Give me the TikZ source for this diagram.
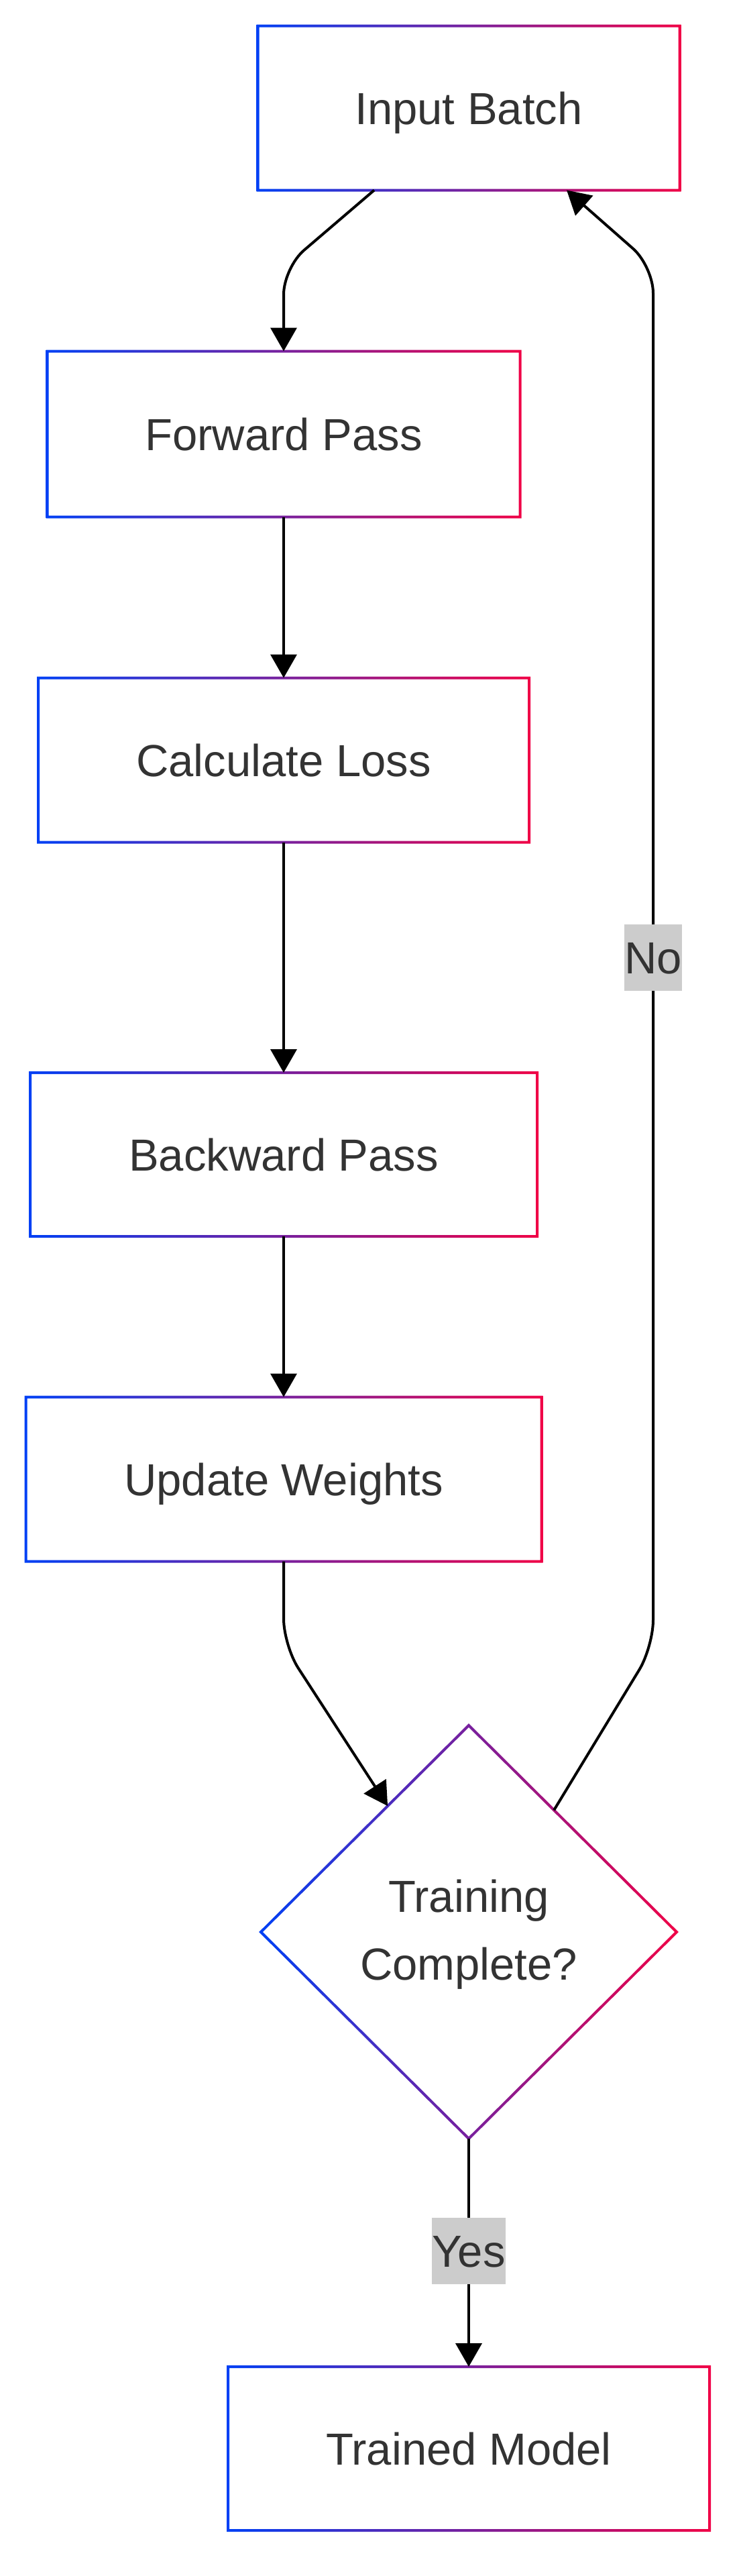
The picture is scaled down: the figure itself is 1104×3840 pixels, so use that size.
\documentclass[tikz,border=0pt]{standalone}
\usepackage{fontspec}
\setmainfont{Liberation Sans}
\usetikzlibrary{arrows.meta,shapes.geometric,calc}
\definecolor{gL}{RGB}{0,64,245}
\definecolor{gR}{RGB}{240,0,70}
\definecolor{txt}{RGB}{51,51,51}
\definecolor{lbl}{RGB}{204,204,204}
\pgfdeclarelayer{bg}
\pgfsetlayers{bg,main}
\newcommand\gborder[1]{%
  \shade[even odd rule, left color=gL, right color=gR]
    ([shift={(-2,-2)}]#1.north west) rectangle ([shift={(2,2)}]#1.south east)
    ([shift={(2,2)}]#1.north west) rectangle ([shift={(-2,-2)}]#1.south east);}
\newcommand\boxshadow[1]{%
  \begin{pgfonlayer}{bg}
  \foreach \s in {0,4,8,12,16}{%
    \fill[black,opacity=0.035]
      ([shift={(2-\s,4-\s)}]#1.north west) rectangle ([shift={(4+\s,12+\s)}]#1.south east);}
  \end{pgfonlayer}}
\begin{document}
\begin{tikzpicture}[x=0.5pt,y=-0.5pt,
  box/.style={rectangle, fill=white, draw=none, inner sep=0pt, outer sep=0pt, text=txt,
    text height=24pt, text depth=0pt, font=\fontsize{33.5}{40}\selectfont},
  dia/.style={diamond, fill=white, draw=none, inner sep=0pt, outer sep=0pt,
    minimum width=310pt, minimum height=308pt},
  dtext/.style={text=txt, align=center, inner sep=0pt, font=\fontsize{33.5}{50.5}\selectfont},
  conn/.style={draw=black, line width=2pt, rounded corners=20pt,
    -{Triangle[length=17.5pt,width=19.5pt]}},
  elabel/.style={fill=lbl, text=txt, inner xsep=0pt, inner ysep=0pt, minimum height=49.5pt,
    text height=24pt, text depth=0pt, font=\fontsize{33.5}{40}\selectfont}]
\useasboundingbox[fill=white] (0,0) rectangle (1104,3840);

\node[box, minimum width=314.5pt, minimum height=122.5pt] (in) at (699,161) {Input Batch};
\node[box, minimum width=352.5pt, minimum height=123.5pt] (fp) at (423,647) {Forward Pass};
\node[box, minimum width=366pt, minimum height=122.5pt] (cl) at (423,1133) {Calculate Loss};
\node[box, minimum width=378pt, minimum height=122pt] (bp) at (423,1721) {Backward Pass};
\node[box, minimum width=384.5pt, minimum height=122.5pt] (uw) at (423,2205) {Update Weights};
\node[dia] (tc) at (699,2880) {};
\node[box, minimum width=359pt, minimum height=122pt] (tm) at (699,3650) {Trained Model};

\foreach \n in {in,fp,cl,bp,uw,tm}{\boxshadow{\n}\gborder{\n}}

% diamond shadow and border
\begin{pgfonlayer}{bg}
\foreach \s in {0,5,10,15,20}{%
  \fill[black,opacity=0.035]
    ([shift={(3,-\s)}]tc.north) -- ([shift={(3+\s,6)}]tc.east) -- ([shift={(3,12+\s)}]tc.south) -- ([shift={(3-\s,6)}]tc.west) -- cycle;}
\end{pgfonlayer}
\shade[even odd rule, left color=gL, right color=gR]
  ([shift={(0,-2.83)}]tc.north) -- ([shift={(2.83,0)}]tc.east) -- ([shift={(0,2.83)}]tc.south) -- ([shift={(-2.83,0)}]tc.west) -- cycle
  ([shift={(0,2.83)}]tc.north) -- ([shift={(-2.83,0)}]tc.east) -- ([shift={(0,-2.83)}]tc.south) -- ([shift={(2.83,0)}]tc.west) -- cycle;
\node[dtext] (tct) at ($(tc.center)+(0,4)$) {Training\\Complete?};

% connectors
\coordinate (s1) at ($(in.south)+(-141,0)$);
\coordinate (c1) at (423,399);
\draw[conn] (s1) -- (c1) -- (fp.north);
\draw[conn] (fp.south) -- (cl.north);
\draw[conn] (cl.south) -- (bp.north);
\draw[conn] (bp.south) -- (uw.north);
\coordinate (c3) at (423,2453);
\coordinate (e3) at ($(tc.north)!0.39!(tc.west)$);
\draw[conn] (uw.south) -- (c3) -- (e3);
\coordinate (s4) at ($(tc.north)!0.41!(tc.east)$);
\coordinate (c4a) at (974,2455);
\coordinate (c4b) at (974,397);
\coordinate (e4) at ($(in.south)+(146,0)$);
\draw[conn] (s4) -- (c4a) -- (c4b) -- (e4);
\draw[conn] (tc.south) -- (tm.north);

\node[elabel] (no) at (974,1427) {No};
\node[elabel] (yes) at (699,3355) {Yes};
\end{tikzpicture}
\end{document}
